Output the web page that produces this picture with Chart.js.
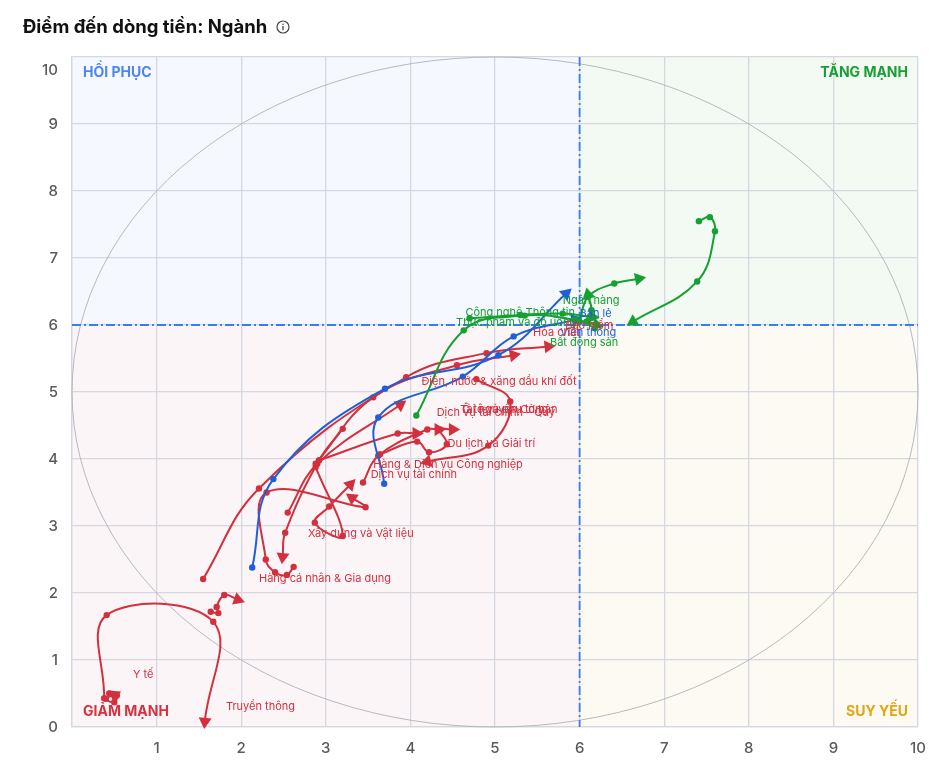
<!DOCTYPE html>
<html lang="vi">
<head>
<meta charset="utf-8">
<title>Điểm đến dòng tiền: Ngành</title>
<script src="https://cdn.jsdelivr.net/npm/chart.js@4.4.1/dist/chart.umd.min.js"></script>
<style>
  html, body { margin: 0; padding: 0; background: #fff; }
  body { width: 941px; height: 762px; position: relative; overflow: hidden; font-family: Inter, 'Noto Sans', sans-serif; }
  .chart-box { position: absolute; left: 0; top: 0; width: 941px; height: 762px; }
  .title { position: absolute; left: 23px; top: 15px; font-size: 18.5px; font-weight: 700; color: #111; display: flex; align-items: center; gap: 9px; }
  .title svg { margin-top: 1px; }
</style>
</head>
<body>
<div class="chart-box"><canvas id="rrg-chart"></canvas></div>
<div class="title">Điểm đến dòng tiền: Ngành
  <svg width="14" height="14" viewBox="0 0 14 14"><circle cx="7" cy="7" r="6" fill="none" stroke="#444" stroke-width="1.2"/><rect x="6.35" y="6" width="1.3" height="4.2" fill="#444"/><circle cx="7" cy="4.2" r="0.8" fill="#444"/></svg>
</div>
<script>
  // ------------------------------------------------------
  // @Data
  // ------------------------------------------------------

  const sectors = [
    'Dầu khí', 'Ngân hàng', 'Bất động sản', 'Công nghệ Thông tin', 'Thực phẩm và đồ uống',
    'Bán lẻ', 'Viễn thông',
    'Bảo hiểm', 'Hóa chất', 'Điện, nước & xăng dầu khí đốt', 'Tài nguyên Cơ bản', 'Ô tô và phụ tùng',
    'Dịch vụ tài chính - Quỹ', 'Du lịch và Giải trí', 'Hàng & Dịch vụ Công nghiệp', 'Dịch vụ tài chính',
    'Xây dựng và Vật liệu', 'Hàng cá nhân & Gia dụng', 'Y tế', 'Truyền thông',
  ];

  const sectorGroup = [
    'green', 'green', 'green', 'green', 'green',
    'blue', 'blue',
    'red', 'red', 'red', 'red', 'red',
    'red', 'red', 'red', 'red',
    'red', 'red', 'red', 'red',
  ];

  // oldest -> newest, the last point gets the arrow
  const trailX = [
    [7.41, 7.54, 7.60, 7.39, 6.63],
    [6.18, 6.08, 6.14, 6.10],
    [6.00, 6.10, 6.41, 6.70],
    [4.70, 5.30, 5.80, 6.15],
    [4.07, 4.63, 5.35, 5.95, 6.20],
    [2.13, 2.38, 3.70, 5.04, 5.84],
    [3.69, 3.62, 4.62, 5.22, 5.95],
    [1.55, 2.21, 3.95, 4.90, 5.63],
    [2.88, 3.56, 4.55, 5.22],
    [2.55, 2.90, 3.88],
    [3.64, 4.08, 4.22, 4.43, 4.35, 4.50],
    [3.44, 3.62, 4.20, 4.33],
    [2.92, 3.85, 4.07],
    [4.78, 5.18, 4.92, 4.20],
    [2.88, 3.20, 2.87, 3.04, 3.29],
    [2.62, 2.54, 2.40, 2.29, 2.30, 3.47, 3.31],
    [3.20, 2.92, 2.52, 2.49],
    [1.64, 1.73, 1.71, 1.80, 1.96],
    [0.44, 0.53, 0.50, 0.40, 0.50],
    [0.38, 0.41, 1.67, 1.57],
  ];

  const trailY = [
    [7.55, 7.61, 7.40, 6.65, 6.05],
    [5.95, 6.05, 6.22, 6.45],
    [6.05, 6.42, 6.62, 6.69],
    [6.10, 6.15, 6.17, 6.12],
    [4.65, 5.92, 6.14, 6.08, 6.00],
    [2.38, 3.70, 5.05, 5.55, 6.47],
    [3.63, 4.62, 5.23, 5.83, 6.08],
    [2.21, 3.56, 5.22, 5.58, 5.68],
    [3.93, 4.92, 5.40, 5.55],
    [3.20, 3.93, 4.81],
    [4.07, 4.26, 4.10, 4.22, 4.44, 4.44],
    [3.65, 4.05, 4.44, 4.44],
    [3.98, 4.38, 4.38],
    [5.19, 4.86, 4.20, 3.96],
    [3.88, 2.85, 3.05, 3.29, 3.62],
    [2.39, 2.27, 2.31, 2.50, 3.50, 3.28, 3.42],
    [4.45, 3.98, 2.90, 2.54],
    [1.72, 1.70, 1.79, 1.97, 1.90],
    [0.50, 0.47, 0.37, 0.42, 0.48],
    [0.43, 1.67, 1.57, 0.08],
  ];

  // where each name is written (left edge, middle), null = not shown
  const labelX = [null, 5.80, 5.65, 4.65, 4.54, 6.00, 5.77, 5.83, 5.45, 4.13, 4.59, 4.61, 4.31, 4.44, 3.56, 3.53, 2.79, 2.21, 0.72, 1.82];
  const labelY = [null, 6.37, 5.74, 6.19, 6.04, 6.17, 5.89, 5.99, 5.89, 5.16, 4.74, 4.74, 4.69, 4.23, 3.92, 3.77, 2.88, 2.21, 0.78, 0.31];

  const axisMin = 0;
  const axisMax = 10;
  const splitX = 6;
  const splitY = 6;
  const quadrantNames = ['HỒI PHỤC', 'TĂNG MẠNH', 'GIẢM MẠNH', 'SUY YẾU'];

  // ------------------------------------------------------
  // @Styles
  // ------------------------------------------------------

  const COLORS = {
    red   : '#d3303e',
    blue  : '#1f5fd8',
    green : '#17a032',
  };
  const QUAD_TEXT = ['#4d86f0', '#1a9e35', '#d7323f', '#e2a40f'];
  const QUAD_FILL = ['#f5f8fe', '#f3faf4', '#fcf5f7', '#fdfaf3'];
  const GRID = '#d5d8df';
  const FONT = 'Inter, "Noto Sans", sans-serif';

  function arrowAngle(chart, i, j) {
    if (j !== trailX[i].length - 1 || j === 0) return 0;
    const sx = chart.scales.x;
    const sy = chart.scales.y;
    const dx = sx.getPixelForValue(trailX[i][j]) - sx.getPixelForValue(trailX[i][j - 1]);
    const dy = sy.getPixelForValue(trailY[i][j]) - sy.getPixelForValue(trailY[i][j - 1]);
    return Math.atan2(dy, dx) * 180 / Math.PI + 90;
  }

  const datasets = sectors.map((name, i) => {
    const last = trailX[i].length - 1;
    const color = COLORS[sectorGroup[i]];
    return {
      label            : name,
      data             : trailX[i].map((x, j) => ({ x, y: trailY[i][j] })),
      borderColor      : color,
      backgroundColor  : color,
      borderWidth      : 2,
      tension          : 0.4,
      clip             : false,
      pointBorderWidth : 0,
      pointRadius      : ctx => (ctx.dataIndex === last ? 7.5 : 3.2),
      pointHoverRadius : ctx => (ctx.dataIndex === last ? 7.5 : 3.2),
      pointStyle       : ctx => (ctx.dataIndex === last ? 'triangle' : 'circle'),
      pointRotation    : ctx => arrowAngle(ctx.chart, i, ctx.dataIndex),
    };
  });

  // ------------------------------------------------------
  // @Quadrants, ring and names
  // ------------------------------------------------------

  const rrgPlugin = {
    id: 'rrgDecor',
    beforeDraw(chart) {
      const { ctx, chartArea: a, scales: { x, y } } = chart;
      const mx = x.getPixelForValue(splitX);
      const my = y.getPixelForValue(splitY);
      ctx.save();
      ctx.fillStyle = QUAD_FILL[0]; ctx.fillRect(a.left, a.top, mx - a.left, my - a.top);
      ctx.fillStyle = QUAD_FILL[1]; ctx.fillRect(mx, a.top, a.right - mx, my - a.top);
      ctx.fillStyle = QUAD_FILL[2]; ctx.fillRect(a.left, my, mx - a.left, a.bottom - my);
      ctx.fillStyle = QUAD_FILL[3]; ctx.fillRect(mx, my, a.right - mx, a.bottom - my);
      ctx.restore();
    },
    beforeDatasetsDraw(chart) {
      const { ctx, chartArea: a, scales: { x, y } } = chart;
      const mid = (axisMin + axisMax) / 2;
      const cx = x.getPixelForValue(mid);
      const cy = y.getPixelForValue(mid);
      ctx.save();

      ctx.beginPath();
      ctx.ellipse(cx, cy, x.getPixelForValue(axisMax) - cx, cy - y.getPixelForValue(axisMax), 0, 0, Math.PI * 2);
      ctx.strokeStyle = '#aeb2ba';
      ctx.lineWidth = 0.9;
      ctx.stroke();

      const mx = x.getPixelForValue(splitX);
      const my = y.getPixelForValue(splitY);
      ctx.strokeStyle = '#3b7cf0';
      ctx.lineWidth = 1.8;
      ctx.setLineDash([9, 3, 2, 3]);
      ctx.beginPath();
      ctx.moveTo(mx, a.top); ctx.lineTo(mx, a.bottom);
      ctx.moveTo(a.left, my); ctx.lineTo(a.right, my);
      ctx.stroke();
      ctx.setLineDash([]);

      ctx.font = `700 14px ${FONT}`;
      ctx.textBaseline = 'middle';
      ctx.textAlign = 'left';
      ctx.fillStyle = QUAD_TEXT[0]; ctx.fillText(quadrantNames[0], a.left + 11, a.top + 16);
      ctx.fillStyle = QUAD_TEXT[2]; ctx.fillText(quadrantNames[2], a.left + 11, a.bottom - 15);
      ctx.textAlign = 'right';
      ctx.fillStyle = QUAD_TEXT[1]; ctx.fillText(quadrantNames[1], a.right - 10, a.top + 16);
      ctx.fillStyle = QUAD_TEXT[3]; ctx.fillText(quadrantNames[3], a.right - 10, a.bottom - 15);
      ctx.restore();
    },
    afterDatasetsDraw(chart) {
      const { ctx, chartArea: a, scales: { x, y } } = chart;
      ctx.save();
      ctx.font = `400 11px ${FONT}`;
      ctx.textAlign = 'left';
      ctx.textBaseline = 'middle';
      sectors.forEach((name, i) => {
        if (labelX[i] === null) return;
        ctx.fillStyle = COLORS[sectorGroup[i]];
        ctx.fillText(name, x.getPixelForValue(labelX[i]), y.getPixelForValue(labelY[i]));
      });

      // top tick of the y axis sits a bit inside the plot
      ctx.font = `500 15px ${FONT}`;
      ctx.fillStyle = '#5a5a5a';
      ctx.textAlign = 'right';
      ctx.fillText(String(axisMax), a.left - 14, y.getPixelForValue(axisMax) + 13);
      ctx.restore();
    },
  };

  // ------------------------------------------------------
  // @Chart
  // ------------------------------------------------------

  const rrgBox = document.getElementById('rrg-chart');

  if (rrgBox) {
    new Chart(rrgBox.getContext('2d'), {
      type: 'line',
      data: { datasets },
      options: {
        responsive          : true,
        maintainAspectRatio : false,
        animation           : false,
        layout: {
          padding: { top: 57, right: 23, bottom: 0, left: 0 },
        },
        plugins: {
          legend  : { display: false },
          tooltip : { enabled: false },
        },
        scales: {
          x: {
            type : 'linear',
            min  : axisMin,
            max  : axisMax,
            afterFit: (scale) => { scale.height = 35; },
            grid   : { color: GRID, lineWidth: 1.3, drawTicks: false },
            border : { color: GRID, width: 1.3 },
            ticks: {
              stepSize : 1,
              padding  : 12,
              color    : '#5a5a5a',
              font     : { family: FONT, size: 15, weight: '500' },
              callback : v => (v === axisMin ? '' : v),
            },
          },
          y: {
            type : 'linear',
            min  : axisMin,
            max  : axisMax,
            afterFit: (scale) => { scale.width = 72; },
            grid   : { color: GRID, lineWidth: 1.3, drawTicks: false },
            border : { color: GRID, width: 1.3 },
            ticks: {
              stepSize : 1,
              padding  : 14,
              color    : '#5a5a5a',
              font     : { family: FONT, size: 15, weight: '500' },
              callback : v => (v === axisMax ? '' : v),
            },
          },
        },
      },
      plugins: [rrgPlugin],
    });
  }
</script>
</body>
</html>
